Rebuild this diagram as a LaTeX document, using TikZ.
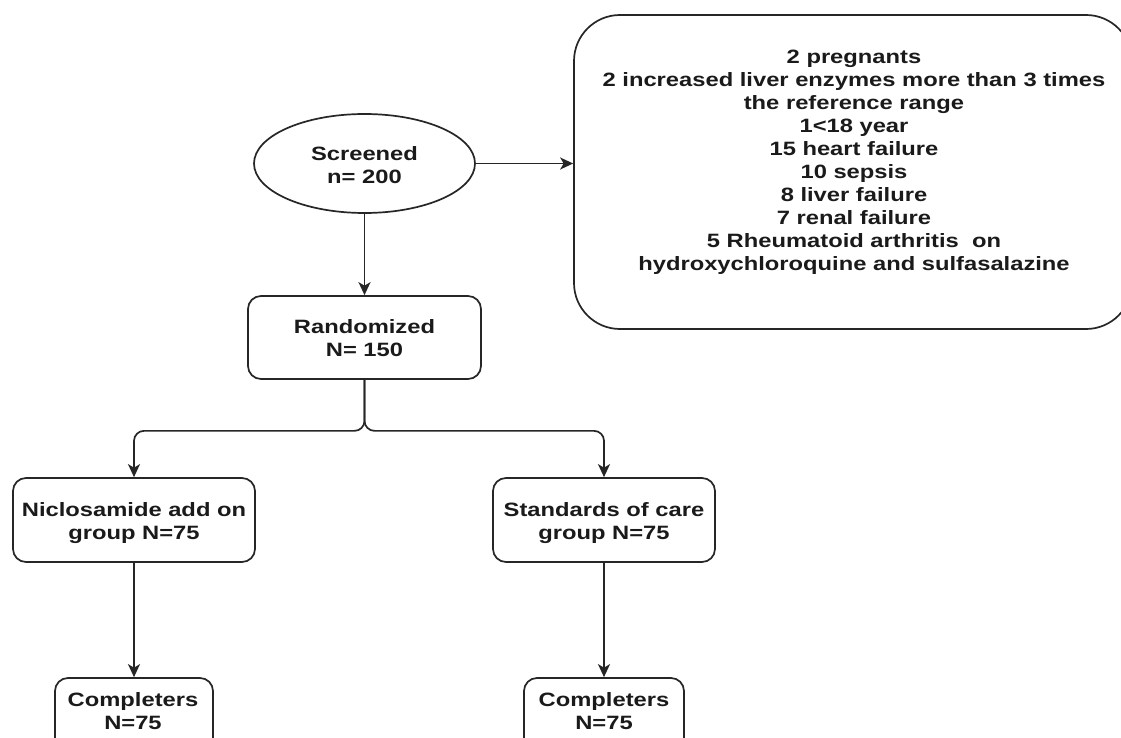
\documentclass[tikz,border=0pt]{standalone}
\usepackage{fontspec}
\newfontfamily\boxfont{Liberation Sans Bold}[FakeStretch=1.23]
\usetikzlibrary{arrows.meta,shapes.geometric}
\newcommand\mylines[1]{\begin{tabular}[t]{@{}c@{}}#1\end{tabular}}
\definecolor{ln}{HTML}{262626}
\definecolor{tx}{HTML}{1A1A1A}
\begin{document}
\begin{tikzpicture}[x=1pt,y=-1pt,
  boxshape/.style={draw=ln, line width=1.7pt, rounded corners=13pt, inner sep=0pt, fill=white},
  ellshape/.style={draw=ln, line width=1.7pt, ellipse, inner sep=0pt, fill=white},
  lbl/.style={font=\boxfont\fontsize{19.3}{23}\selectfont, text=tx, inner sep=0pt, anchor=base},
  conn/.style={draw=ln, line width=1.7pt, -{Stealth[length=13pt,width=12pt,inset=3.5pt]}}]
\useasboundingbox (0,0) rectangle (1121,738);
\clip (0,0) rectangle (1121,738);
\fill[white] (0,0) rectangle (1121,738);

% shapes
\node[ellshape, minimum width=221pt, minimum height=99pt] (scr) at (364.5,163.5) {};
\node[boxshape, rounded corners=46pt, minimum width=558pt, minimum height=314pt] (exc) at (853,172) {};
\node[boxshape, minimum width=233pt, minimum height=83pt] (rnd) at (364.5,337.5) {};
\node[boxshape, minimum width=242pt, minimum height=84pt] (nic) at (134,520) {};
\node[boxshape, minimum width=222pt, minimum height=84pt] (soc) at (604,520) {};
\node[boxshape, minimum width=158pt, minimum height=83pt] (cl) at (134,719.5) {};
\node[boxshape, minimum width=160pt, minimum height=83pt] (cr) at (604,719.5) {};

% texts
\node[lbl] (scrt) at (364.5,161) {\mylines{Screened\\n= 200}};
\node[lbl] (exct) at (854,64) {\mylines{2 pregnants\\2 increased liver enzymes more than 3 times\\the reference range\\1<18 year\\15 heart failure\\10 sepsis\\8 liver failure\\7 renal failure\\5 Rheumatoid arthritis\ \ on\\hydroxychloroquine and sulfasalazine}};
\node[lbl] (rndt) at (364.5,333) {\mylines{Randomized\\N= 150}};
\node[lbl] (nict) at (134,516) {\mylines{Niclosamide add on\\group N=75}};
\node[lbl] (soct) at (604,516) {\mylines{Standards of care\\group N=75}};
\node[lbl] (clt) at (133,706) {\mylines{Completers\\N=75}};
\node[lbl] (crt) at (604,706) {\mylines{Completers\\N=75}};

% connectors
\draw[conn] (scr.east) -- (scr.east -| exc.west);
\draw[conn] (scr.south) -- (rnd.north);
\draw[conn, rounded corners=10pt] (rnd.south) -- ++(0,51) -| (nic.north);
\draw[conn, rounded corners=10pt] (rnd.south) -- ++(0,51) -| (soc.north);
\draw[conn] (nic.south) -- (cl.north);
\draw[conn] (soc.south) -- (cr.north);
\end{tikzpicture}
\end{document}
